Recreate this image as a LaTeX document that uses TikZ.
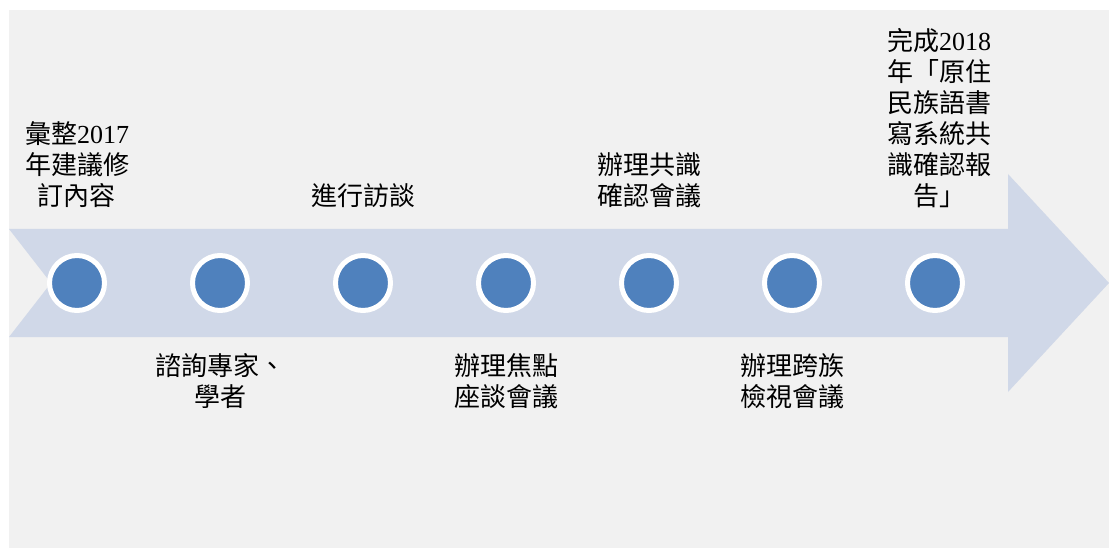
\documentclass[tikz,border=0pt]{standalone}
\usepackage{fontspec}
\setmainfont{Liberation Serif}
\newfontfamily\cjk{Noto Sans CJK TC}
\usetikzlibrary{positioning}
\definecolor{bggray}{HTML}{F1F1F1}
\definecolor{bandblue}{HTML}{D0D8E8}
\definecolor{dotblue}{HTML}{4F81BD}
\newcommand{\yr}[1]{\textrm{#1}}
\tikzset{
	dot/.style={circle, fill=dotblue, draw=white, line width=5pt, minimum size=55pt, inner sep=0pt},
	lbl/.style={align=center, inner sep=0pt, font=\cjk\fontsize{26}{31}\selectfont}
}

\begin{document}
\begin{tikzpicture}[x=1pt, y=-1pt]
			\useasboundingbox (0,0) rectangle (1109,548);
			\fill[bggray] (9,10) rectangle (1109,548);
			% arrow band
			\fill[bandblue] (9,229) -- (1008,229) -- (1008,174) -- (1109,283) -- (1008,392) -- (1008,337) -- (9,337) -- (51,283) -- cycle;
			% steps
			\foreach \i in {1,...,7}
				\node[dot] (s\i) at ({77+143*(\i-1)},283) {};
			\node[lbl, above=45pt of s1] (t1) {彙整\yr{2017}\\年建議修\\訂內容};
			\node[lbl, below=40pt of s2] (t2) {諮詢專家、\\學者};
			\node[lbl, above=45pt of s3] (t3) {進行訪談};
			\node[lbl, below=40pt of s4] (t4) {辦理焦點\\座談會議};
			\node[lbl, above=45pt of s5] (t5) {辦理共識\\確認會議};
			\node[lbl, below=40pt of s6] (t6) {辦理跨族\\檢視會議};
			\node[lbl, above=45pt of s7, xshift=4pt] (t7) {完成\yr{2018}\\年「原住\\民族語書\\寫系統共\\識確認報\\告」};
\end{tikzpicture}
\end{document}
